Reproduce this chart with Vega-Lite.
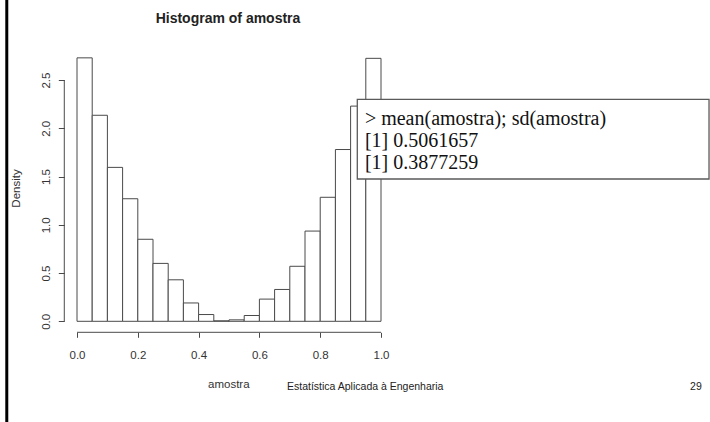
{
  "$schema": "https://vega.github.io/schema/vega-lite/v6.json",
  "width": 710,
  "height": 422,
  "autosize": {"type": "none"},
  "padding": 0,
  "background": "white",
  "config": {"view": {"stroke": null}, "font": "Liberation Sans"},
  "title": {
    "text": "Histogram of amostra",
    "anchor": "middle",
    "frame": "group",
    "dx": -127,
    "dy": 16,
    "offset": -22.7,
    "baseline": "alphabetic",
    "font": "Liberation Sans",
    "fontSize": 14,
    "fontWeight": "bold",
    "color": "#222222"
  },
  "data": {
    "values": [
      {
        "console": "> mean(amostra); sd(amostra)\n[1] 0.5061657\n[1] 0.3877259",
        "footer": "Estatística Aplicada à Engenharia",
        "page": "29"
      }
    ]
  },
  "datasets": {
    "bins": [
      {"bin_start": 0.00, "bin_end": 0.05, "density": 2.73},
      {"bin_start": 0.05, "bin_end": 0.10, "density": 2.135},
      {"bin_start": 0.10, "bin_end": 0.15, "density": 1.595},
      {"bin_start": 0.15, "bin_end": 0.20, "density": 1.27},
      {"bin_start": 0.20, "bin_end": 0.25, "density": 0.85},
      {"bin_start": 0.25, "bin_end": 0.30, "density": 0.60},
      {"bin_start": 0.30, "bin_end": 0.35, "density": 0.43},
      {"bin_start": 0.35, "bin_end": 0.40, "density": 0.19},
      {"bin_start": 0.40, "bin_end": 0.45, "density": 0.07},
      {"bin_start": 0.45, "bin_end": 0.50, "density": 0.005},
      {"bin_start": 0.50, "bin_end": 0.55, "density": 0.015},
      {"bin_start": 0.55, "bin_end": 0.60, "density": 0.06},
      {"bin_start": 0.60, "bin_end": 0.65, "density": 0.23},
      {"bin_start": 0.65, "bin_end": 0.70, "density": 0.33},
      {"bin_start": 0.70, "bin_end": 0.75, "density": 0.57},
      {"bin_start": 0.75, "bin_end": 0.80, "density": 0.935},
      {"bin_start": 0.80, "bin_end": 0.85, "density": 1.285},
      {"bin_start": 0.85, "bin_end": 0.90, "density": 1.78},
      {"bin_start": 0.90, "bin_end": 0.95, "density": 2.23},
      {"bin_start": 0.95, "bin_end": 1.00, "density": 2.725}
    ]
  },
  "layer": [
    {
      "data": {"name": "bins"},
      "mark": {"type": "rect", "fill": "white", "stroke": "#4a4a4a", "strokeWidth": 1},
      "encoding": {
        "x": {
          "field": "bin_start",
          "type": "quantitative",
          "scale": {"domain": [-0.2533, 2.0822], "nice": false, "zero": false},
          "axis": {
            "values": [0, 0.2, 0.4, 0.6, 0.8, 1.0],
            "format": ".1f",
            "offset": -89.7,
            "domain": false,
            "grid": false,
            "tickSize": 5,
            "tickColor": "#4a4a4a",
            "labelColor": "#333333",
            "labelFont": "Liberation Sans",
            "labelFontSize": 11.5,
            "labelPadding": 12,
            "labelBaseline": "top",
            "labelAlign": "center",
            "title": "amostra",
            "titleFont": "Liberation Sans",
            "titleFontSize": 11.5,
            "titleFontWeight": "normal",
            "titleColor": "#333333",
            "titleX": 228.3,
            "titleY": 54.7,
            "titleBaseline": "alphabetic",
            "titleAlign": "center"
          }
        },
        "x2": {"field": "bin_end"},
        "y": {
          "field": "density",
          "type": "quantitative",
          "scale": {"domain": [-1.0435, 3.3295], "nice": false, "zero": false},
          "axis": {
            "values": [0, 0.5, 1.0, 1.5, 2.0, 2.5],
            "format": ".1f",
            "offset": -64.3,
            "domain": false,
            "grid": false,
            "tickSize": 6,
            "tickColor": "#4a4a4a",
            "labelColor": "#333333",
            "labelFont": "Liberation Sans",
            "labelFontSize": 11.5,
            "labelAngle": 270,
            "labelAlign": "center",
            "labelBaseline": "alphabetic",
            "labelPadding": 9,
            "title": "Density",
            "titleFont": "Liberation Sans",
            "titleFontSize": 11.5,
            "titleFontWeight": "normal",
            "titleColor": "#333333",
            "titleAngle": 270,
            "titleX": -44.8,
            "titleY": 188,
            "titleBaseline": "alphabetic",
            "titleAlign": "center"
          }
        },
        "y2": {"datum": 0}
      }
    },
    {
      "mark": {"type": "rule", "stroke": "#4a4a4a", "strokeWidth": 1},
      "encoding": {
        "x": {"datum": -0.0418, "type": "quantitative"},
        "y": {"datum": 0, "type": "quantitative"},
        "y2": {"datum": 2.5}
      }
    },
    {
      "mark": {"type": "rule", "stroke": "#4a4a4a", "strokeWidth": 1},
      "encoding": {
        "x": {"datum": 0, "type": "quantitative"},
        "x2": {"datum": 1},
        "y": {"datum": -0.114, "type": "quantitative"}
      }
    },
    {
      "mark": {"type": "rule", "stroke": "black", "strokeWidth": 3},
      "encoding": {
        "x": {"datum": -0.231, "type": "quantitative"}
      }
    },
    {
      "mark": {"type": "rect", "fill": "white", "stroke": "#5a5a5a", "strokeWidth": 1.3},
      "encoding": {
        "x": {"datum": 0.922, "type": "quantitative"},
        "x2": {"datum": 2.079},
        "y": {"datum": 2.3005, "type": "quantitative"},
        "y2": {"datum": 1.4746}
      }
    },
    {
      "mark": {
        "type": "text",
        "font": "Liberation Serif",
        "fontSize": 20,
        "align": "left",
        "baseline": "alphabetic",
        "lineBreak": "\n",
        "lineHeight": 22,
        "color": "#111111"
      },
      "encoding": {
        "x": {"datum": 0.947, "type": "quantitative"},
        "y": {"datum": 2.039, "type": "quantitative"},
        "text": {"field": "console"}
      }
    },
    {
      "mark": {
        "type": "text",
        "font": "Liberation Sans",
        "fontSize": 10.5,
        "align": "left",
        "baseline": "alphabetic",
        "color": "#222222"
      },
      "encoding": {
        "x": {"datum": 0.6908, "type": "quantitative"},
        "y": {"datum": -0.712, "type": "quantitative"},
        "text": {"field": "footer"}
      }
    },
    {
      "mark": {
        "type": "text",
        "font": "Liberation Sans",
        "fontSize": 10.5,
        "align": "right",
        "baseline": "alphabetic",
        "color": "#222222"
      },
      "encoding": {
        "x": {"datum": 2.055, "type": "quantitative"},
        "y": {"datum": -0.712, "type": "quantitative"},
        "text": {"field": "page"}
      }
    }
  ]
}
